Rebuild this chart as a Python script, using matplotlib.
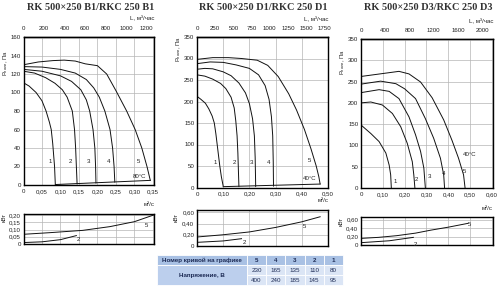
import matplotlib
matplotlib.use("Agg")
import matplotlib.pyplot as plt
from matplotlib.patches import Rectangle

plt.rcParams['font.family'] = ['Liberation Sans', 'DejaVu Sans']

# ---------------- data ----------------
titles = ["RK 500×250 B1/RKC 250 B1", "RK 500×250 D1/RKC 250 D1", "RK 500×250 D3/RKC 250 D3"]
curve_names = ["1", "2", "3", "4", "5"]

# B1 pressure curves: flow (m3/s), total pressure (Pa)
b1_q1 = [0, 0.015, 0.034, 0.05, 0.061, 0.07, 0.075, 0.079, 0.082, 0.084, 0.086]
b1_p1 = [110.5, 107, 100, 91, 80, 68, 60, 45, 30, 20, 1]
b1_q2 = [0, 0.03, 0.06, 0.085, 0.105, 0.118, 0.132, 0.138, 0.141, 0.143, 0.145]
b1_p2 = [123, 121, 116, 110, 103, 95, 80, 60, 40, 20, 1]
b1_q3 = [0, 0.05, 0.1, 0.13, 0.155, 0.17, 0.179, 0.188, 0.193, 0.195, 0.196]
b1_p3 = [125, 123, 118, 112, 103, 92, 80, 60, 40, 20, 2]
b1_q4 = [0, 0.05, 0.1, 0.14, 0.17, 0.19, 0.205, 0.22, 0.234, 0.241, 0.245, 0.247]
b1_p4 = [128, 127.5, 125, 121, 114, 105, 95, 80, 60, 40, 20, 3]
b1_q5 = [0, 0.04, 0.08, 0.11, 0.14, 0.167, 0.2, 0.225, 0.25, 0.279, 0.302, 0.32, 0.334, 0.343]
b1_p5 = [130, 133, 134.5, 135, 134, 131, 129, 120, 102, 80, 60, 40, 20, 5]
b1_temp_q = [0.086, 0.343]
b1_temp_p = [0.5, 5]

# D1 pressure curves
d1_q1 = [0, 0.015, 0.032, 0.045, 0.058, 0.066, 0.072, 0.077, 0.082, 0.087, 0.093, 0.1]
d1_p1 = [212, 205, 196, 183, 166, 150, 125, 100, 75, 50, 25, 3]
d1_q2 = [0, 0.03, 0.06, 0.09, 0.11, 0.13, 0.142, 0.148, 0.153, 0.156, 0.158, 0.16]
d1_p2 = [262, 259, 252, 242, 230, 210, 185, 155, 120, 80, 40, 2]
d1_q3 = [0, 0.03, 0.06, 0.1, 0.13, 0.16, 0.185, 0.2, 0.212, 0.219, 0.222, 0.224]
d1_p3 = [275, 277, 276, 269, 260, 243, 220, 195, 160, 120, 70, 2]
d1_q4 = [0, 0.05, 0.1, 0.15, 0.2, 0.235, 0.26, 0.275, 0.284, 0.289, 0.291, 0.292]
d1_p4 = [288, 292, 291, 285, 277, 262, 237, 205, 165, 120, 60, 3]
d1_q5 = [0, 0.06, 0.12, 0.17, 0.23, 0.27, 0.31, 0.35, 0.38, 0.41, 0.435, 0.455, 0.465, 0.47]
d1_p5 = [298, 302, 302, 300, 296, 284, 258, 218, 180, 135, 90, 50, 25, 8]
d1_temp_q = [0.1, 0.47]
d1_temp_p = [2, 8]

# D3 pressure curves
d3_q1 = [0, 0.045, 0.083, 0.114, 0.129, 0.136, 0.139]
d3_p1 = [148, 128, 109, 82, 54, 31, 0]
d3_q2 = [0, 0.045, 0.098, 0.144, 0.182, 0.212, 0.235, 0.242, 0.247]
d3_p2 = [200, 202, 195, 175, 144, 105, 62, 31, 0]
d3_q3 = [0, 0.083, 0.129, 0.174, 0.22, 0.25, 0.273, 0.288, 0.295]
d3_p3 = [224, 231, 227, 210, 167, 125, 86, 47, 0]
d3_q4 = [0, 0.09, 0.16, 0.2, 0.25, 0.295, 0.333, 0.364, 0.379, 0.383]
d3_p4 = [244, 251, 245, 233, 210, 163, 117, 70, 31, 0]
d3_q5 = [0, 0.174, 0.22, 0.273, 0.326, 0.379, 0.417, 0.447, 0.47, 0.477]
d3_p5 = [262, 274, 268, 249, 212, 160, 112, 70, 31, 0]

# Power curves (kW)
b1_pw_q5 = [0, 0.07, 0.16, 0.234, 0.3, 0.352]
b1_pw_n5 = [0.067, 0.078, 0.094, 0.12, 0.154, 0.2]
b1_pw_q2 = [0, 0.05, 0.1, 0.143]
b1_pw_n2 = [0.01, 0.015, 0.03, 0.058]
d1_pw_q5 = [0, 0.1, 0.2, 0.3, 0.4, 0.47]
d1_pw_n5 = [0.16, 0.2, 0.25, 0.33, 0.43, 0.52]
d1_pw_q2 = [0, 0.1, 0.17]
d1_pw_n2 = [0.065, 0.09, 0.13]
d3_pw_q5 = [0, 0.08, 0.164, 0.25, 0.32, 0.4, 0.49]
d3_pw_n5 = [0.156, 0.18, 0.22, 0.28, 0.35, 0.42, 0.51]
d3_pw_q2 = [0, 0.13, 0.24]
d3_pw_n2 = [0.055, 0.1, 0.18]

# Axis ticks
b1_xticks = [0, 0.05, 0.10, 0.15, 0.20, 0.25, 0.30, 0.35]
b1_xlabels = ["0", "0,05", "0,10", "0,15", "0,20", "0,25", "0,30", "0,35"]
b1_yticks = [0, 20, 40, 60, 80, 100, 120, 140, 160]
b1_top = [0, 200, 400, 600, 800, 1000, 1200]
b1_pw_yticks = [0, 0.05, 0.10, 0.15, 0.20]
b1_pw_ylabels = ["0", "0,05", "0,10", "0,15", "0,20"]

d1_xticks = [0, 0.1, 0.2, 0.3, 0.4, 0.5]
d1_xlabels = ["0", "0,10", "0,20", "0,30", "0,40", "0,50"]
d1_yticks = [0, 50, 100, 150, 200, 250, 300, 350]
d1_top = [0, 250, 500, 750, 1000, 1250, 1500, 1750]

d3_xticks = [0, 0.1, 0.2, 0.3, 0.4, 0.5, 0.6]
d3_xlabels = ["0", "0,10", "0,20", "0,30", "0,40", "0,50", "0,60"]
d3_yticks = [0, 50, 100, 150, 200, 250, 300, 350]
d3_top = [0, 400, 800, 1200, 1600, 2000]

d_pw_yticks = [0, 0.2, 0.4, 0.6]
d_pw_ylabels = ["0", "0,20", "0,40", "0,60"]

# Table
table_header = "Номер кривой на графике"
table_rowlabel = "Напряжение, В"
table_curves = ["5", "4", "3", "2", "1"]
table_row1 = ["230", "165", "135", "110", "80"]
table_row2 = ["400", "240", "185", "145", "95"]

# ---------------- drawing ----------------
W, H = 500, 289
fig = plt.figure(figsize=(W / 100, H / 100), dpi=100)

FS = 4.4
TC = "#222222"
GRID = "#b5b5b5"
LINE = "#111111"


def rect(x0, y0, x1, y1):
    return [x0 / W, 1 - y1 / H, (x1 - x0) / W, (y1 - y0) / H]


def style(ax, xmax, ymax, xt, yt, ytl=None, xtl=None):
    ax.set_xlim(0, xmax)
    ax.set_ylim(0, ymax)
    ax.set_xticks(xt)
    ax.set_yticks(yt)
    if ytl is not None:
        ax.set_yticklabels(ytl)
    if xtl is not None:
        ax.set_xticklabels(xtl)
    else:
        ax.set_xticklabels([])
    ax.grid(True, color=GRID, lw=0.5)
    ax.set_axisbelow(True)
    for s in ax.spines.values():
        s.set_linewidth(1.0)
        s.set_color("black")
    ax.tick_params(length=0, labelsize=FS, colors=TC, pad=2.0)


def panel(box, pbox, xmax, ymax, xt, xtl, yt, top, qs, ps, labels_pos,
          temp_line, temp_text, pymax, pyt, pytl, pw_q, pw_n, pw_lab,
          title, title_x, ylab_x, ylab_y, kw_x, kw_y, ltop_y):
    ax = fig.add_axes(rect(*box))
    style(ax, xmax, ymax, xt, yt, xtl=xtl)
    ax.tick_params(axis="x", pad=3.0)
    for q, p in zip(qs, ps):
        ax.plot(q, p, color=LINE, lw=0.7, solid_capstyle="round")
    if temp_line is not None:
        ax.plot(temp_line[0], temp_line[1], color=LINE, lw=0.7)
    for name, (lq, lp) in zip(curve_names, labels_pos):
        ax.text(lq, lp, name, fontsize=FS, color=TC, ha="center", va="center")
    ax.text(temp_text[0], temp_text[1], temp_text[2], fontsize=FS, color=TC,
            ha="center", va="center")
    sec = ax.secondary_xaxis("top", functions=(lambda v: v * 3600, lambda v: v / 3600))
    sec.set_xticks(top)
    sec.tick_params(length=0, labelsize=FS, colors=TC, pad=4.0)
    sec.spines["top"].set_linewidth(1.0)

    fig.text(box[2] / W, 1 - ltop_y / H, "L, м³/час", fontsize=FS, color=TC,
             ha="right", va="center")
    fig.text(title_x / W, 1 - 7 / H, title, fontsize=7.4, color="#333333",
             ha="center", va="center", family="Liberation Serif", fontweight="bold")
    fig.text(ylab_x / W, 1 - ylab_y / H, "P$_{\\mathregular{полн}}$, Па", fontsize=4.2,
             color=TC, rotation=90, ha="center", va="center")

    pax = fig.add_axes(rect(*pbox))
    style(pax, xmax, pymax, xt, pyt, ytl=pytl)
    for q, n in zip(pw_q, pw_n):
        pax.plot(q, n, color=LINE, lw=0.7)
    for name, (lq, ln) in pw_lab:
        pax.text(lq, ln, name, fontsize=FS, color=TC, ha="center", va="center")
    fig.text(pbox[2] / W, 1 - (pbox[1] - 9) / H, "м³/с", fontsize=FS, color=TC,
             ha="right", va="center")
    fig.text(kw_x / W, 1 - kw_y / H, "кВт", fontsize=4.2, color=TC, rotation=90,
             ha="center", va="center")


panel((23.5, 37, 154, 185), (23.5, 214, 154, 244), 0.353, 160,
      b1_xticks, b1_xlabels, b1_yticks, b1_top,
      [b1_q1, b1_q2, b1_q3, b1_q4, b1_q5], [b1_p1, b1_p2, b1_p3, b1_p4, b1_p5],
      [(0.073, 25), (0.126, 25), (0.177, 25), (0.229, 25), (0.311, 25)],
      (b1_temp_q, b1_temp_p), (0.313, 9, "80°C"),
      0.207, b1_pw_yticks, b1_pw_ylabels,
      [b1_pw_q5, b1_pw_q2], [b1_pw_n5, b1_pw_n2],
      [("5", (0.334, 0.13)), ("2", (0.149, 0.03))],
      titles[0], 91, 6, 63, 4, 217, 19)

panel((197, 37, 328, 187.5), (197, 210, 328, 246), 0.5, 350,
      d1_xticks, d1_xlabels, d1_yticks, d1_top,
      [d1_q1, d1_q2, d1_q3, d1_q4, d1_q5], [d1_p1, d1_p2, d1_p3, d1_p4, d1_p5],
      [(0.07, 58), (0.142, 58), (0.206, 58), (0.272, 58), (0.43, 62)],
      (d1_temp_q, d1_temp_p), (0.43, 20, "40°C"),
      0.64, d_pw_yticks, d_pw_ylabels,
      [d1_pw_q5, d1_pw_q2], [d1_pw_n5, d1_pw_n2],
      [("5", (0.41, 0.34)), ("2", (0.182, 0.06))],
      titles[1], 263, 178.5, 49, 176, 217, 20)

panel((361, 39, 493, 188), (361, 217, 493, 245), 0.605, 350,
      d3_xticks, d3_xlabels, d3_yticks, d3_top,
      [d3_q1, d3_q2, d3_q3, d3_q4, d3_q5], [d3_p1, d3_p2, d3_p3, d3_p4, d3_p5],
      [(0.155, 16), (0.252, 19), (0.312, 27), (0.38, 35), (0.473, 39)],
      None, (0.5, 78, "40°C"),
      0.66, d_pw_yticks, d_pw_ylabels,
      [d3_pw_q5, d3_pw_q2], [d3_pw_n5, d3_pw_n2],
      [("5", (0.498, 0.48)), ("2", (0.25, 0.02))],
      titles[2], 428, 342.5, 62, 341, 221, 22)

# ---------------- table ----------------
tx0, tx1, ty0 = 157, 343, 255
rh = 10
c1w = 90
cw = (tx1 - tx0 - c1w) / 5
HEAD = "#a9c1e4"
LAB = "#bccfed"
CELL = "#dbe5f5"
TXT = "#1d2b55"


def cell(x0, y0, w, h, color):
    fig.patches.append(Rectangle((x0 / W, 1 - (y0 + h) / H), w / W, h / H,
                                 transform=fig.transFigure, facecolor=color,
                                 edgecolor="white", lw=0.6))


cell(tx0, ty0, c1w, rh, HEAD)
fig.text((tx0 + c1w / 2) / W, 1 - (ty0 + rh / 2) / H, table_header, fontsize=4.5,
         color=TXT, ha="center", va="center", fontweight="bold")
cell(tx0, ty0 + rh, c1w, 2 * rh, LAB)
fig.text((tx0 + c1w / 2) / W, 1 - (ty0 + 2 * rh) / H, table_rowlabel, fontsize=4.5,
         color=TXT, ha="center", va="center", fontweight="bold")
for i in range(5):
    x = tx0 + c1w + i * cw
    cell(x, ty0, cw, rh, HEAD)
    fig.text((x + cw / 2) / W, 1 - (ty0 + rh / 2) / H, table_curves[i], fontsize=4.5,
             color=TXT, ha="center", va="center", fontweight="bold")
    cell(x, ty0 + rh, cw, rh, CELL)
    fig.text((x + cw / 2) / W, 1 - (ty0 + 1.5 * rh) / H, table_row1[i], fontsize=4.5,
             color=TXT, ha="center", va="center")
    cell(x, ty0 + 2 * rh, cw, rh, CELL)
    fig.text((x + cw / 2) / W, 1 - (ty0 + 2.5 * rh) / H, table_row2[i], fontsize=4.5,
             color=TXT, ha="center", va="center")

fig.savefig("out.png", dpi=100)
